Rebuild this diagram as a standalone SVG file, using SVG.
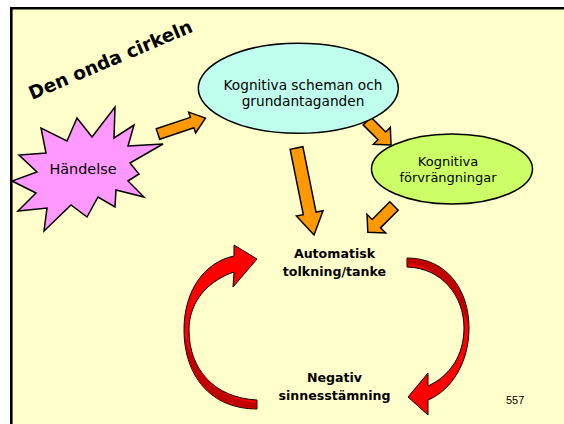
<svg xmlns="http://www.w3.org/2000/svg" width="564" height="424" viewBox="0 0 564 424">
  <defs>
    <style>
      .lbl { font-family: "DejaVu Sans", "Liberation Sans", sans-serif; fill: #000; text-anchor: middle; }
      .bold { font-weight: bold; }
      .outline { stroke: #000; stroke-width: 1.5; stroke-linejoin: miter; }
      .block { fill: #FF9900; stroke: #000; stroke-width: 1.5; stroke-linejoin: miter; }
      .curl { fill: #FF0000; stroke: #000; stroke-width: 1; stroke-linejoin: miter; }
      .curl-back { fill: #C00000; stroke: none; }
    </style>
  </defs>

  <!-- slide page -->
  <rect x="0" y="0" width="564" height="424" fill="#FFFFFF"/>
  <rect x="11" y="8" width="553" height="416" fill="#FFFFCC"/>
  <path d="M11.3,424 L11.3,8.2 L564,8.2" fill="none" stroke="#000" stroke-width="2.6"/>

  <!-- title -->
  <text class="lbl bold" x="32" y="100" transform="rotate(-23 32 100)" style="text-anchor:start" font-size="18.5">Den onda cirkeln</text>

  <!-- connectors -->
  <g id="connectors">
    <path class="block" transform="translate(158,134) rotate(-18.5)" d="M0,-5.5 L36,-5.5 L36,-11 L50,0 L36,11 L36,5.5 L0,5.5 Z"/>
    <path class="block" transform="translate(367,121) rotate(45)" d="M0,-5.5 L21,-5.5 L21,-12 L34,0 L21,12 L21,5.5 L0,5.5 Z"/>
    <path class="block" transform="translate(296.5,148) rotate(78.6)" d="M0,-6.5 L66.7,-6.5 L66.7,-13.6 L88.7,0 L66.7,13.6 L66.7,6.5 L0,6.5 Z"/>
    <path class="block" transform="translate(394,206) rotate(135)" d="M0,-5.9 L25,-5.9 L25,-13.2 L37,0 L25,13.2 L25,5.9 L0,5.9 Z"/>

    <!-- loop: mood back to thought -->
    <path class="curl" d="M257,409 C210,409 184,375 184,330 C184,290 205,262 234,256 L234,245 L257,259 L233,287 L234,272 C210,280 189,300 189,330 C189,370 215,398 257,400 Z"/>
    <path class="curl-back" d="M256.5,408.5 C212,408.5 185,378 184.6,333 C192,372 220,400 256.5,403 Z"/>
    <!-- loop: thought down to mood -->
    <path class="curl" d="M407,258 C447,258 469,290 469,328 C469,362 452,390 428,400 L428,415 L408,397 L428,373 L428,386 C450,376 464,355 464,328 C464,296 442,268 407,267 Z"/>
    <path class="curl-back" d="M407.5,258.5 C446,258.5 468.5,290 468.5,328 C462,296 440,266 407.5,264 Z"/>
  </g>

  <!-- nodes -->
  <g id="handelse">
    <polygon class="outline" fill="#FF99FF" points="115,107 114,138 134,125 128,146 163,144 130,163 139,174 128,181 144,197 116,190 115,207 98,197 87,217 71,205 44,231 47,208 18,211 36,193 12,181 37,172 19,155 46,153 41,128 67,141 77,118 92,137"/>
    <text class="lbl" x="83" y="174" font-size="14.4">Händelse</text>
  </g>

  <g id="scheman">
    <ellipse class="outline" cx="298.3" cy="88.3" rx="100" ry="45" fill="#C0FFEE"/>
    <text class="lbl" x="303" y="90" font-size="13.7">Kognitiva scheman och</text>
    <text class="lbl" x="303" y="105.5" font-size="13.7">grundantaganden</text>
  </g>

  <g id="forvrangningar">
    <ellipse class="outline" cx="452" cy="169" rx="80.5" ry="35" fill="#CCFF66"/>
    <text class="lbl" x="448" y="166" font-size="13">Kognitiva</text>
    <text class="lbl" x="448" y="181.5" font-size="13">förvrängningar</text>
  </g>

  <g id="tanke">
    <text class="lbl bold" x="334.5" y="258.3" font-size="12.6">Automatisk</text>
    <text class="lbl bold" x="334.5" y="276" font-size="12.6">tolkning/tanke</text>
  </g>

  <g id="sinnesstamning">
    <text class="lbl bold" x="334.5" y="382.3" font-size="12.6">Negativ</text>
    <text class="lbl bold" x="334.5" y="400" font-size="12.6">sinnesstämning</text>
  </g>

  <text x="506" y="404" font-family="Liberation Sans, Arial, sans-serif" font-size="11" fill="#000">557</text>
</svg>
